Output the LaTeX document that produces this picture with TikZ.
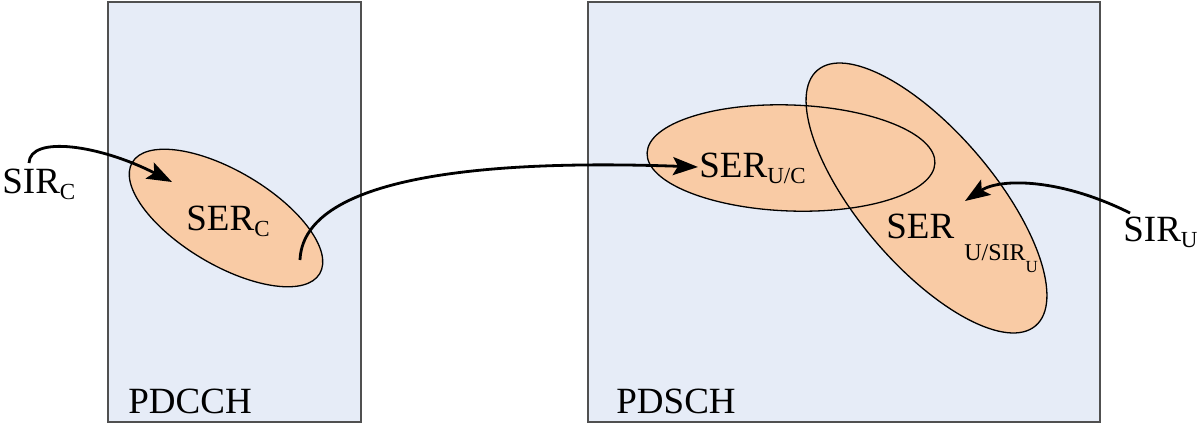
\documentclass[tikz,border=0pt]{standalone}
\usepackage{fontspec}
\setmainfont{Liberation Serif}
\usetikzlibrary{shapes.geometric,arrows.meta}
\definecolor{boxfill}{HTML}{E6ECF7}
\definecolor{boxline}{HTML}{505050}
\definecolor{ellfill}{HTML}{F9CBA5}
\newcommand{\mysub}[1]{\raisebox{-3pt}{\fontsize{11.5}{12}\selectfont #1}}
\begin{document}
\begin{tikzpicture}[x=0.5pt,y=-0.5pt,
 panel/.style={draw=boxline,line width=1pt,fill=boxfill,anchor=north west,inner sep=0pt},
 ellfillst/.style={ellipse,fill=ellfill,inner sep=0pt},
 ellline/.style={ellipse,draw=black,line width=0.65pt,inner sep=0pt},
 lbl/.style={anchor=base west,inner sep=0pt,font=\fontsize{18.5}{20}\selectfont},
 conn/.style={line width=1.4pt,-{Stealth[length=12.5pt,width=9pt,inset=2.5pt]}}]
\useasboundingbox (0,0) rectangle (1200,424);
% panels
\node[panel,minimum width=126.5pt,minimum height=210pt] (pdcch) at (107,1) {};
\node[panel,minimum width=256pt,minimum height=210pt] (pdsch) at (587,1) {};
% ellipse fills
\node[ellfillst,minimum width=109pt,minimum height=47pt,rotate=-30.7] (ec) at (226,218) {};
\node[ellfillst,minimum width=168pt,minimum height=67pt,rotate=-49.5] (eus) at (926.5,198) {};
\node[ellfillst,minimum width=144pt,minimum height=53pt,rotate=-2] (euc) at (791,158) {};
% ellipse outlines
\node[ellline,minimum width=109pt,minimum height=47pt,rotate=-30.7] (ecb) at (ec.center) {};
\node[ellline,minimum width=168pt,minimum height=67pt,rotate=-49.5] (eusb) at (eus.center) {};
\node[ellline,minimum width=144pt,minimum height=53pt,rotate=-2] (eucb) at (euc.center) {};
% labels
\node[lbl] (sirc) at (2,193) {SIR\mysub{C}};
\node[lbl] (serc) at (186,230) {SER\mysub{C}};
\node[lbl] (seruc) at (699,177) {SER\mysub{U/C}};
\node[lbl] (serus) at (886,238) {SER\hspace{5pt}\raisebox{-11pt}{\fontsize{12}{13}\selectfont U/SIR\raisebox{-6pt}{\fontsize{8.5}{9}\selectfont U}}};
\node[lbl] (siru) at (1123,241) {SIR\mysub{U}};
\node[lbl] (pdcchl) at (128,413) {PDCCH};
\node[lbl] (pdschl) at (616,413) {PDSCH};
% connectors
\coordinate (c1s) at (29,163);
\coordinate (c1e) at (172,182);
\draw[conn] (c1s) .. controls (30,135) and (100,145) .. (c1e);
\coordinate (c2s) at (300,260);
\coordinate (c2e) at (698,167);
\draw[conn] (c2s) .. controls (303,185) and (450,158) .. (c2e);
\coordinate (c3s) at (1130,213);
\coordinate (c3e) at (965,201);
\draw[conn] (c3s) .. controls (1060,178) and (1000,178) .. (c3e);
\end{tikzpicture}
\end{document}
